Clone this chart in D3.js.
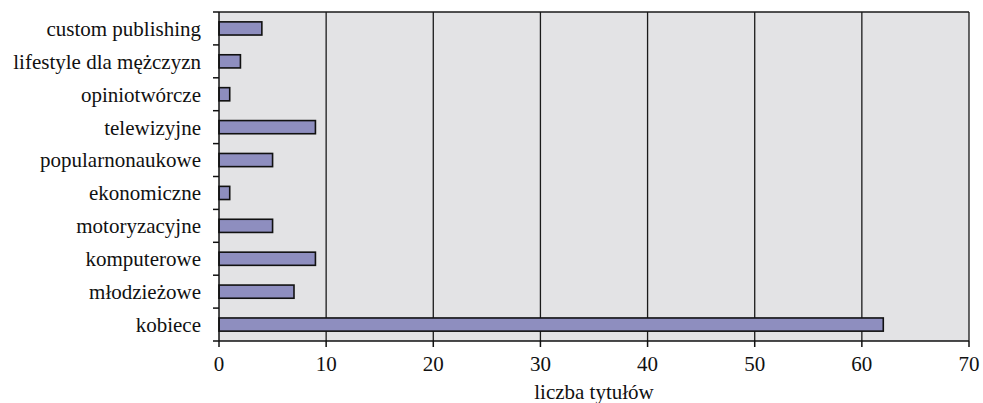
<!DOCTYPE html>
<html><head><meta charset="utf-8">
<script src="https://cdn.jsdelivr.net/npm/d3@7"></script>
</head><body>
<script>
const categories = ["custom publishing","lifestyle dla mężczyzn","opiniotwórcze","telewizyjne","popularnonaukowe","ekonomiczne","motoryzacyjne","komputerowe","młodzieżowe","kobiece"];
const values = [4,2,1,9,5,1,5,9,7,62];
const xTicks = [0,10,20,30,40,50,60,70];
const xTitle = "liczba tytułów";

const FONT='"Liberation Serif", Tinos, "Times New Roman", serif';
const W=983,H=403;
d3.select("body").style("margin","0");
const m={left:219,right:14,top:12,bottom:62};
const iw=W-m.left-m.right, ih=H-m.top-m.bottom;
const svg=d3.select("body").append("svg").attr("width",W).attr("height",H).style("display","block")
  .style("font-family",FONT,"important");
const g=svg.append("g").attr("transform",`translate(${m.left},${m.top})`);
const x=d3.scaleLinear().domain([0,70]).range([0,iw]);
const y=d3.scaleBand().domain(categories).range([0,ih]).paddingInner(0.6).paddingOuter(0.3);
const yb=d3.scaleBand().domain(categories).range([0,ih]);

g.append("rect").attr("width",iw).attr("height",ih).attr("fill","#e3e3e5");
g.selectAll("line.grid").data(xTicks.slice(1)).join("line").attr("class","grid")
 .attr("x1",d=>x(d)).attr("x2",d=>x(d)).attr("y1",0).attr("y2",ih).attr("stroke","#1a1a1a").attr("stroke-width",1.3);
g.append("line").attr("x1",0).attr("x2",iw).attr("y1",0).attr("y2",0).attr("stroke","#1a1a1a").attr("stroke-width",1.3);

g.selectAll("rect.bar").data(values).join("rect").attr("class","bar")
 .attr("x",0).attr("y",(d,i)=>y(categories[i])).attr("width",d=>x(d)).attr("height",y.bandwidth())
 .attr("fill","#8e8ebf").attr("stroke","#111").attr("stroke-width",1.6);

// y axis
g.append("line").attr("x1",0).attr("x2",0).attr("y1",0).attr("y2",ih).attr("stroke","#111").attr("stroke-width",1.5);
const bounds=categories.map(c=>yb(c)).concat([ih]);
g.selectAll("line.yt").data(bounds).join("line").attr("class","yt")
 .attr("x1",-6).attr("x2",0).attr("y1",d=>d).attr("y2",d=>d).attr("stroke","#111").attr("stroke-width",1.5);
g.selectAll("text.yl").data(categories).join("text").attr("class","yl")
 .attr("x",-18).attr("y",d=>yb(d)+yb.bandwidth()/2).attr("dy","0.35em").attr("text-anchor","end")
 .attr("font-size",21).style("font-family",FONT,"important").attr("fill","#111").text(d=>d);

// x axis
g.append("line").attr("x1",0).attr("x2",iw).attr("y1",ih).attr("y2",ih).attr("stroke","#111").attr("stroke-width",1.5);
g.selectAll("line.xt").data(xTicks).join("line").attr("class","xt")
 .attr("x1",d=>x(d)).attr("x2",d=>x(d)).attr("y1",ih).attr("y2",ih+6).attr("stroke","#111").attr("stroke-width",1.5);
g.selectAll("text.xl").data(xTicks).join("text").attr("class","xl")
 .attr("x",d=>x(d)).attr("y",ih+30).attr("text-anchor","middle")
 .attr("font-size",21).style("font-family",FONT,"important").attr("fill","#111").text(d=>d);
g.append("text").attr("x",iw/2).attr("y",ih+58).attr("text-anchor","middle")
 .attr("font-size",21).style("font-family",FONT,"important").attr("fill","#111").text(xTitle);
</script>
</body></html>
